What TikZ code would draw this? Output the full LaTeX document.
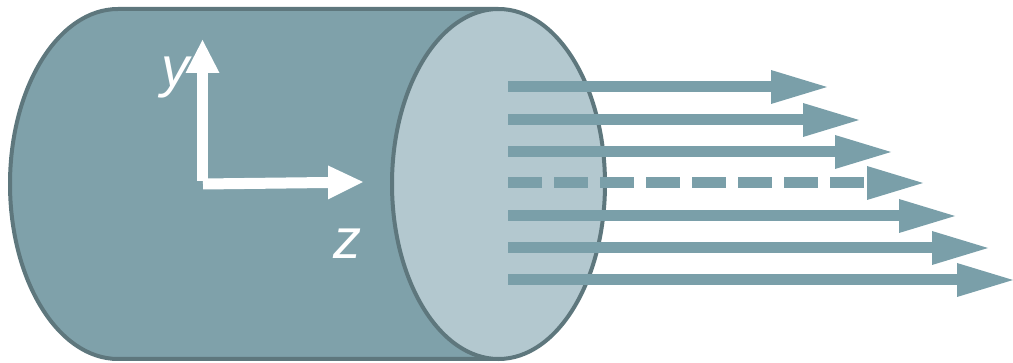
\documentclass[tikz,border=0pt]{standalone}
\usepackage{fontspec}
\newfontfamily\labelfont{Liberation Sans}
\definecolor{bodyfill}{HTML}{7FA1AA}
\definecolor{facefill}{HTML}{B3C8CF}
\definecolor{rimline}{HTML}{5E777D}
\definecolor{rayblue}{HTML}{7A9FA9}
\begin{document}
\begin{tikzpicture}[x=1pt,y=-1pt,
  rim/.style={draw=rimline,line width=4pt},
  ray/.style={draw=rayblue,line width=11pt},
  raysolid/.style={solid},
  raydashed/.style={dash pattern=on 34pt off 12pt},
  rayhead/.style={fill=rayblue},
  axis/.style={draw=white,line width=11pt},
  axishead/.style={fill=white},
  axislabel/.style={text=white,inner sep=0pt,font=\labelfont\itshape\fontsize{56}{56}\selectfont}]
\useasboundingbox (0,0) rectangle (1013,363);
% cylinder body with the rounded back end (y axis points down)
\path[rim,fill=bodyfill] (498,9) -- (118,9) arc[start angle=270,end angle=90,x radius=108,y radius=175] -- (498,359);
% front face
\path[rim,fill=facefill] (498.5,184) ellipse[x radius=106.5,y radius=175];
% emerging rays: shaft and triangular head, longer towards the bottom
\foreach \yy/\tip/\sty in {87/827/raysolid,120/859/raysolid,152/891/raysolid,183/923/raydashed,216/955/raysolid,248/988/raysolid,280/1013/raysolid}{
  \coordinate (s) at (508,\yy);
  \coordinate (b) at (\tip-56,\yy);
  \coordinate (t) at (\tip,\yy);
  \draw[ray,\sty] (s) -- (b);
  \path[rayhead] (\tip-56,\yy-17) -- (t) -- (\tip-56,\yy+17) -- cycle;
}
% coordinate axes
\coordinate (o) at (202.5,181);
\coordinate (ybase) at (202.5,73);
\coordinate (ytip) at (202.5,40);
\coordinate (zo) at (203,184);
\coordinate (zbase) at (328,182.5);
\coordinate (ztip) at (363,182);
\draw[axis] (o) -- (ybase);
\path[axishead] (185.5,73) -- (ytip) -- (219.5,73) -- cycle;
\draw[axis] (zo) -- (zbase);
\path[axishead] (328,165.5) -- (ztip) -- (328,199.5) -- cycle;
\node[axislabel] (ylab) at (175,78) {y};
\node[axislabel] (zlab) at (347,244) {z};
\end{tikzpicture}
\end{document}
